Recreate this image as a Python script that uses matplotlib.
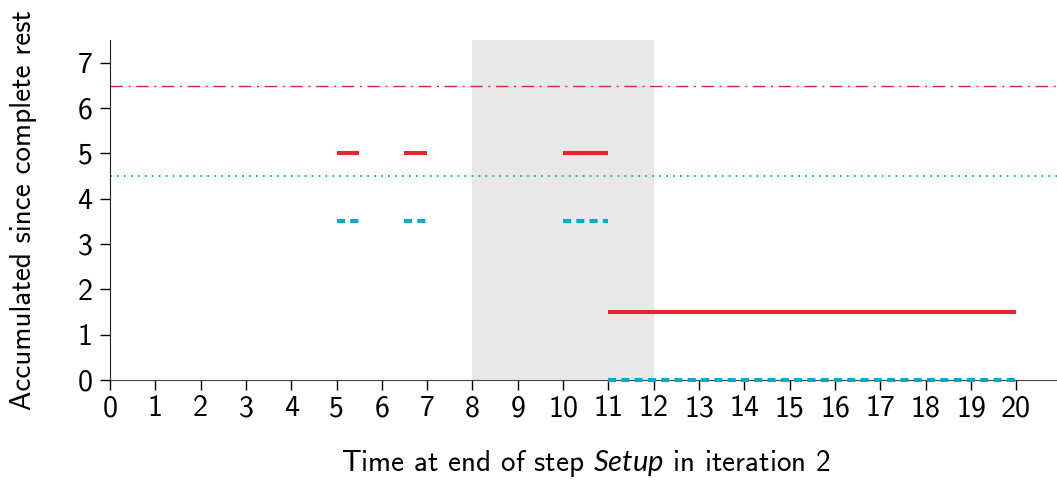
import matplotlib
matplotlib.use("Agg")
import matplotlib.pyplot as plt

# Data
red_level = 5.0
red_short_segments = [(5.0, 5.5), (6.5, 7.0), (10.0, 11.0)]
cyan_level = 3.5
cyan_short_segments = [(5.0, 5.5), (6.5, 7.0), (10.0, 11.0)]
red_long_level = 1.5
red_long_segment = (11.0, 20.0)
cyan_long_level = 0.0
cyan_long_segment = (11.0, 20.0)
red_ref = 6.5
cyan_ref = 4.5
shade_span = (8.0, 12.0)
xticks = list(range(0, 21))
yticks = list(range(0, 8))

RED = "#e3262e"
CYAN = "#00aacc"

plt.rcParams['font.family'] = ['cmss10', 'DejaVu Sans']
plt.rcParams['mathtext.fontset'] = 'custom'
plt.rcParams['mathtext.rm'] = 'cmss10'
plt.rcParams['mathtext.it'] = 'Lato:italic'
plt.rcParams['axes.unicode_minus'] = False

fig = plt.figure(figsize=(10.57, 4.82), dpi=100)
ax = fig.add_axes([0.104, 0.2116, 0.896, 0.705])

ax.axvspan(*shade_span, color="#e8e8e8", lw=0, zorder=0)
ax.axhline(red_ref, color=RED, lw=1.0, linestyle=(0, (9, 4, 1.5, 4)), zorder=1)
ax.axhline(cyan_ref, color=CYAN, lw=1.3, linestyle=(0, (1, 2.85)), zorder=1)

for a, b in red_short_segments:
    ax.plot([a, b], [red_level, red_level], color=RED, lw=2.9, solid_capstyle='butt', zorder=3)
for a, b in cyan_short_segments:
    ax.plot([a, b], [cyan_level, cyan_level], color=CYAN, lw=2.9,
            linestyle=(0, (2.0, 1.3)), dash_capstyle='butt', zorder=3)
ax.plot(list(red_long_segment), [red_long_level] * 2, color=RED, lw=2.9,
        solid_capstyle='butt', zorder=3)
ax.plot(list(cyan_long_segment), [cyan_long_level] * 2, color=CYAN, lw=2.9,
        linestyle=(0, (2.0, 1.3)), dash_capstyle='butt', zorder=4, clip_on=False)

ax.set_xlim(0, 20.9)
ax.set_ylim(0, 7.5)
ax.set_xticks(xticks)
ax.set_yticks(yticks)
ax.spines['top'].set_visible(False)
ax.spines['right'].set_visible(False)
ax.spines['left'].set_color('#222222')
ax.spines['bottom'].set_color('#444444')
ax.tick_params(axis='both', direction='out', length=7, width=1, labelsize=21.5, pad=4)
ax.tick_params(axis='y', pad=5.5)

ax.set_xlabel(r'Time at end of step $\mathit{Setup}$ in iteration 2', fontsize=21)
ax.xaxis.set_label_coords(0.503, -0.2)
ax.set_ylabel('Accumulated since complete rest', fontsize=21, labelpad=29)

fig.savefig("out.png", dpi=100)
